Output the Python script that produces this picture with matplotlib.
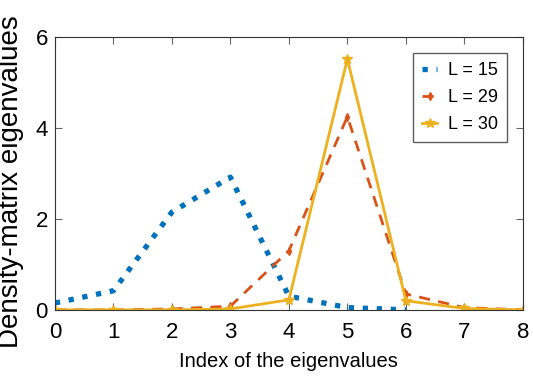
import numpy as np
import matplotlib.pyplot as plt

idx = [0, 1, 2, 3, 4, 5, 6, 7, 8]
l15_idx = [0, 1, 2, 3, 4, 5, 6]
l15 = [0.15, 0.42, 2.15, 2.92, 0.30, 0.05, 0.0]
l29 = [0.0, 0.0, 0.02, 0.08, 1.30, 4.25, 0.35, 0.05, 0.0]
l30 = [0.0, 0.0, 0.0, 0.02, 0.22, 5.52, 0.20, 0.03, 0.0]

plt.rcParams['font.family'] = ['Liberation Sans', 'DejaVu Sans']

fig = plt.figure(figsize=(5.33, 3.83), dpi=100)
ax = fig.add_axes([0.103, 0.191, 0.878, 0.712])

ax.plot(l15_idx, l15, ':', color='#0072BD', lw=3.8, label='L = 15')
ax.plot(idx, l29, '--', color='#D95319', lw=2, dashes=(4, 3), marker='d', ms=4, label='L = 29')
ax.plot(idx, l30, '-', color='#EDB120', lw=2, marker='*', ms=7, label='L = 30')

ax.set_xlim(0, 8)
ax.set_ylim(0, 6)
ax.set_xticks(range(9))
ax.set_yticks([0, 2, 4, 6])
ax.tick_params(labelsize=16, direction='in', top=True, right=True, color='#666666', length=5)
ax.tick_params(axis='x', pad=9)
ax.tick_params(axis='y', pad=5)
for s in ax.spines.values():
    s.set_color('#333333')
ax.set_xlabel('Index of the eigenvalues', fontsize=14.5, labelpad=6)
ax.set_ylabel('Density-matrix eigenvalues', fontsize=20)
ax.yaxis.set_label_coords(-0.065, 0.47)

leg = ax.legend(loc='upper right', fontsize=13, handlelength=0.8, fancybox=False,
                edgecolor='#333333', borderaxespad=0.9, handletextpad=0.6, labelspacing=0.55,
                borderpad=0.5)
leg.get_frame().set_linewidth(1)

fig.savefig('out.png', dpi=100)
